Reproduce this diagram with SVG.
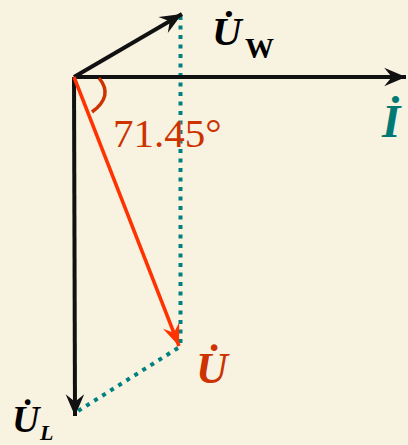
<svg xmlns="http://www.w3.org/2000/svg" width="408" height="445" viewBox="0 0 408 445">
<style>
.vec{fill:none;stroke-linecap:butt}
.blk{stroke:#111;stroke-width:4}
.red{stroke:#ff3300;stroke-width:3.5}
.dot{fill:none;stroke:#008080;stroke-width:4;stroke-dasharray:4 5.5}
.sym{font-family:"Liberation Serif","Times New Roman",serif;font-weight:bold;font-style:italic}
.num{font-family:"Liberation Serif","Times New Roman",serif}
</style>
<defs>
<marker id="ab" markerUnits="userSpaceOnUse" markerWidth="24" markerHeight="20" viewBox="-21 -9 22 18" refX="0" refY="0" orient="auto">
<path d="M0,0 L-20,-8.5 L-13,0 L-20,8.5 Z" fill="#111"/>
</marker>
<marker id="ar" markerUnits="userSpaceOnUse" markerWidth="24" markerHeight="20" viewBox="-21 -9 22 18" refX="0" refY="0" orient="auto">
<path d="M0,0 L-20,-8 L-13,0 L-20,8 Z" fill="#ff3300"/>
</marker>
</defs>
<rect width="408" height="445" fill="#f8f2e1"/>
<g id="connectors">
<line class="dot" x1="180.5" y1="16" x2="180.5" y2="346"/>
<line class="dot" x1="178" y1="348" x2="78" y2="411"/>
<line class="vec blk" x1="74" y1="77" x2="406" y2="77" marker-end="url(#ab)"/>
<line class="vec blk" x1="74" y1="77" x2="182" y2="14" marker-end="url(#ab)"/>
<line class="vec blk" x1="74" y1="77" x2="75" y2="416" marker-end="url(#ab)"/>
<line class="vec red" x1="74" y1="77" x2="179" y2="346" marker-end="url(#ar)"/>
<path d="M99,78 Q114,96 92,112" fill="none" stroke="#cc3300" stroke-width="3.5"/>
</g>
<g id="UW">
<text class="sym" x="212" y="45" font-size="41" fill="#000">U&#x307;</text>
<text x="245" y="58" font-size="29" font-weight="bold" font-family="Liberation Serif, Times New Roman, serif" fill="#000">W</text>
</g>
<g id="I">
<text class="sym" x="382" y="137" font-size="47" fill="#007a73">I&#x307;</text>
</g>
<g id="angle">
<text class="num" x="113" y="147" font-size="41" fill="#cc3300">71.45°</text>
</g>
<g id="U">
<text class="sym" x="196" y="383" font-size="44" fill="#cc3300">U&#x307;</text>
</g>
<g id="UL">
<text class="sym" x="12" y="432" font-size="38" fill="#000">U&#x307;</text>
<text class="sym" x="40" y="440" font-size="22" fill="#000">L</text>
</g>
</svg>
